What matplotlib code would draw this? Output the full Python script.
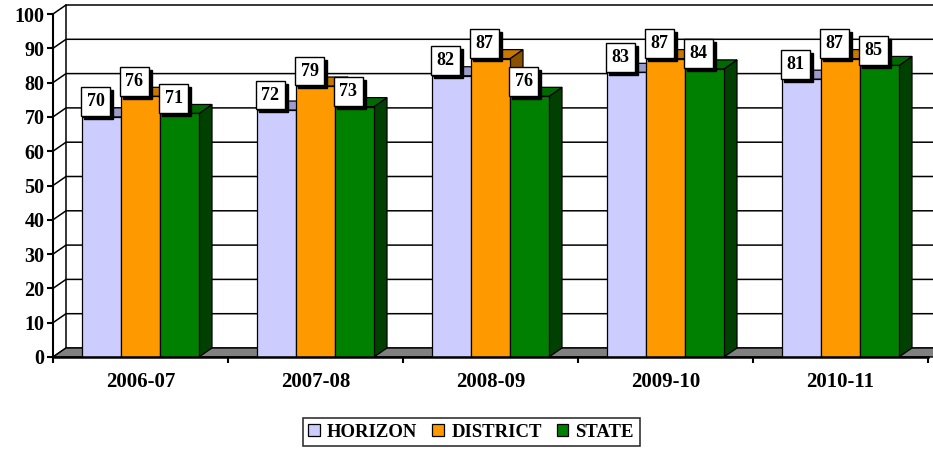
import matplotlib
matplotlib.use("Agg")
import matplotlib.pyplot as plt
import matplotlib.transforms as mtransforms
from matplotlib.patches import Polygon, Patch

years = ["2006-07", "2007-08", "2008-09", "2009-10", "2010-11"]
horizon = [70, 72, 82, 83, 81]
district = [76, 79, 87, 87, 87]
state = [71, 73, 76, 84, 85]

series_names = ["HORIZON", "DISTRICT", "STATE"]
front_cols = ["#CCCCFF", "#FF9900", "#008000"]
top_cols = ["#9C9CCC", "#C87800", "#006A00"]
side_cols = ["#7878A8", "#8A5200", "#004000"]

FONT = ["Liberation Serif", "DejaVu Serif"]

# depth of the fake 3d, in data units (13 px across, 9 px up)
DX = 13 / 175.0
DY = 9 / 3.43
BAR_W = 39 / 175.0

fig = plt.figure(figsize=(9.33, 4.53), dpi=100)
ax = fig.add_axes([53 / 933, (453 - 357) / 453, 875 / 933, 343 / 453])
ax.set_xlim(0, 5)
ax.set_ylim(0, 100)
n = len(years)

# back wall + left wall gridlines
for v in range(0, 101, 10):
    ax.plot([0, DX, n + DX + 0.2], [v, v + DY, v + DY], color="black",
            lw=1.1, zorder=1, clip_on=False)
ax.plot([DX, DX], [DY, 100 + DY], color="black", lw=1.1, zorder=1, clip_on=False)

# floor
floor = Polygon([(0, 0), (n + 0.2, 0), (n + 0.2 + DX, DY), (DX, DY)],
                closed=True, facecolor="#808080", edgecolor="black", lw=1.0,
                zorder=2, clip_on=False)
ax.add_patch(floor)

data = [horizon, district, state]
z = 3.0
for i in range(n):
    for s in range(3):
        v = data[s][i]
        x0 = i + 0.5 + (s - 1.5) * BAR_W
        x1 = x0 + BAR_W
        side = Polygon([(x1, 0), (x1 + DX, DY), (x1 + DX, v + DY), (x1, v)],
                       closed=True, facecolor=side_cols[s], edgecolor="black",
                       lw=0.9, zorder=z, clip_on=False)
        top = Polygon([(x0, v), (x1, v), (x1 + DX, v + DY), (x0 + DX, v + DY)],
                      closed=True, facecolor=top_cols[s], edgecolor="black",
                      lw=0.9, zorder=z, clip_on=False)
        ax.add_patch(side)
        ax.add_patch(top)
        b = ax.bar(x0, v, width=BAR_W, align="edge", color=front_cols[s],
                   edgecolor="black", lw=0.9, zorder=z + 0.005)
        z += 0.01

# data labels with drop shadow
shadow_tr = mtransforms.offset_copy(ax.transData, fig=fig, x=3, y=-3, units="dots")
for i in range(n):
    for s in range(3):
        v = data[s][i]
        xc = i + 0.5 + (s - 1.0) * BAR_W - 6 / 175.0
        yc = v + 15 / 3.43
        kw = dict(ha="center", va="center", fontsize=13, fontweight="bold",
                  family=FONT, zorder=20)
        ax.text(xc, yc, str(v), transform=shadow_tr, color="black",
                bbox=dict(boxstyle="square,pad=0.33", fc="black", ec="black", lw=1), **kw)
        ax.text(xc, yc, str(v), color="black",
                bbox=dict(boxstyle="square,pad=0.33", fc="white", ec="black", lw=1), **kw)

# axes
for sp in ["top", "right"]:
    ax.spines[sp].set_visible(False)
ax.spines["left"].set_linewidth(1.5)
ax.spines["bottom"].set_linewidth(1.8)
ax.spines["left"].set_zorder(15)
ax.spines["bottom"].set_zorder(15)
ax.set_yticks(range(0, 101, 10))
ax.set_yticklabels([str(t) for t in range(0, 101, 10)], fontsize=14.5,
                   fontweight="bold", family=FONT)
ax.tick_params(axis="y", length=4, width=1.5, pad=2)
ax.set_xticks([i + 0.5 for i in range(n)])
ax.set_xticklabels(years, fontsize=15, fontweight="bold", family=FONT)
ax.set_xticks(range(0, n + 1), minor=True)
ax.tick_params(axis="x", which="major", length=0, pad=11)
ax.tick_params(axis="x", which="minor", length=4, width=1.5)
ax.patch.set_visible(False)

handles = [Patch(facecolor=c, edgecolor="black", lw=0.9) for c in front_cols]
leg = fig.legend(handles, series_names, loc="center", bbox_to_anchor=(0.505, 0.046),
                 ncol=3, frameon=True, fancybox=False, edgecolor="black",
                 handlelength=0.6, handleheight=0.6, handletextpad=0.4,
                 columnspacing=0.8, borderpad=0.3,
                 prop=dict(family=FONT, weight="bold", size=13.5))
leg.get_frame().set_linewidth(1.2)

fig.savefig("out.png", dpi=100)
